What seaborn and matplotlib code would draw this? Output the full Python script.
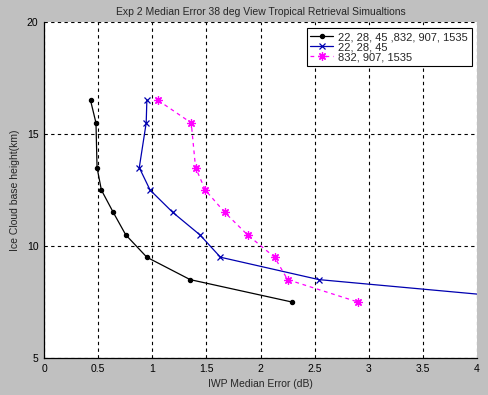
import seaborn as sns
import matplotlib.pyplot as plt
import pandas as pd
import numpy as np

# Ice cloud base heights (km) shared by all three channel sets
heights = [16.5, 15.5, 13.5, 12.5, 11.5, 10.5, 9.5, 8.5, 7.5]

# IWP median error (dB)
err_all = [0.43, 0.48, 0.49, 0.53, 0.64, 0.755, 0.95, 1.35, 2.29]
err_low = [0.95, 0.944, 0.88, 0.98, 1.19, 1.44, 1.63, 2.54, 4.8]
err_high = [1.056, 1.36, 1.40, 1.49, 1.67, 1.88, 2.13, 2.25, 2.90]

labels = ["22, 28, 45 ,832, 907, 1535", "22, 28, 45", "832, 907, 1535"]
colors = ["black", "#0000b0", "#ff00ff"]
markers = ["o", "x", (8, 2, 0)]  # dot, cross, asterisk
msizes = [3, 4.5, 6]
styles = ["-", "-", (0, (3, 3))]

sns.set_style("white")
plt.rcParams["font.family"] = ["Liberation Sans", "DejaVu Sans"]
plt.rcParams["font.size"] = 7.5

fig = plt.figure(figsize=(4.89, 3.95), dpi=100, facecolor="#c0c0c0")
ax = fig.add_axes([0.090, 0.0937, 0.8855, 0.8503])

for e, lab, c, m, ms, ls in zip([err_all, err_low, err_high], labels,
                                colors, markers, msizes, styles):
    df = pd.DataFrame({"err": e, "height": heights})
    sns.lineplot(data=df, x="err", y="height", sort=False, color=c,
                 marker=m, markersize=ms, markeredgewidth=0.9,
                 markeredgecolor=c, linestyle=ls, linewidth=0.9,
                 label=lab, ax=ax)

ax.set_xlim(0, 4)
ax.set_ylim(5, 20)
ax.set_xticks(np.arange(0, 4.01, 0.5))
ax.set_xticklabels(["0", "0.5", "1", "1.5", "2", "2.5", "3", "3.5", "4"])
ax.set_yticks([5, 10, 15, 20])
ax.grid(True, color="black", linestyle=(0, (3, 3)), linewidth=0.8)
ax.tick_params(direction="in", length=3, color="black", labelcolor="black", pad=4)
for side in ["top", "right"]:
    ax.spines[side].set_visible(False)
for side in ["left", "bottom"]:
    ax.spines[side].set_color("black")
    ax.spines[side].set_linewidth(0.9)

ax.set_title("Exp 2 Median Error 38 deg View Tropical Retrieval Simualtions",
             fontsize=7.5, pad=5)
ax.set_xlabel("IWP Median Error (dB)", labelpad=4)
ax.set_ylabel("Ice Cloud base height(km)", labelpad=5)

leg = ax.legend(loc="upper right", bbox_to_anchor=(0.988, 0.982), borderaxespad=0,
                fancybox=False, edgecolor="black", framealpha=1, fontsize=8,
                borderpad=0.35, labelspacing=0.0, handlelength=2.0,
                handletextpad=0.5)
leg.get_frame().set_linewidth(0.8)

plt.savefig("out.png", dpi=100, facecolor=fig.get_facecolor())
plt.close()
